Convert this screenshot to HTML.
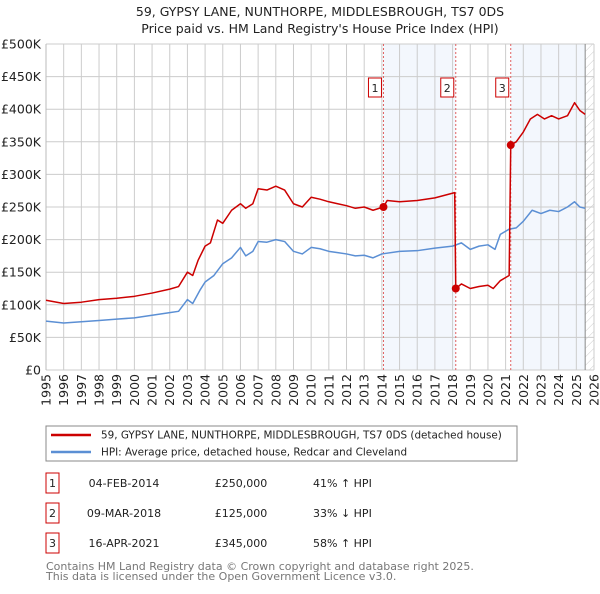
<!DOCTYPE html>
<html><head><meta charset="utf-8"><style>
body{margin:0;background:#fff;font-family:"DejaVu Sans","Liberation Sans",sans-serif;}
svg text{font-family:"DejaVu Sans","Liberation Sans",sans-serif;}
</style></head><body>
<svg id="c" width="600" height="590" xmlns="http://www.w3.org/2000/svg">
<defs><pattern id="hatch" width="6" height="6" patternUnits="userSpaceOnUse" patternTransform="rotate(45)"><line x1="0" y1="0" x2="0" y2="6" stroke="#ccc" stroke-width="1"/></pattern></defs>
<text x="320" y="16" font-size="12.5" text-anchor="middle" fill="#222">59, GYPSY LANE, NUNTHORPE, MIDDLESBROUGH, TS7 0DS</text>
<text x="320" y="33" font-size="12.5" text-anchor="middle" fill="#222">Price paid vs. HM Land Registry's House Price Index (HPI)</text>
<g id="plot"></g>
<rect x="46" y="426" width="471" height="35" fill="#fff" stroke="#888"/>
<line x1="51" y1="435" x2="91" y2="435" stroke="#cc0000" stroke-width="2.5"/>
<text x="101" y="438.5" font-size="10.4" fill="#222">59, GYPSY LANE, NUNTHORPE, MIDDLESBROUGH, TS7 0DS (detached house)</text>
<line x1="51" y1="452" x2="91" y2="452" stroke="#5b8fd4" stroke-width="2.5"/>
<text x="101" y="455.5" font-size="10.4" fill="#222">HPI: Average price, detached house, Redcar and Cleveland</text>
<g id="tbl"></g>
<text x="46" y="570" font-size="11" fill="#777">Contains HM Land Registry data © Crown copyright and database right 2025.</text>
<text x="46" y="580" font-size="11" fill="#777">This data is licensed under the Open Government Licence v3.0.</text>
</svg>
<script>
const yTicks=[0,50,100,150,200,250,300,350,400,450,500];
const yTickLabels=["£0","£50K","£100K","£150K","£200K","£250K","£300K","£350K","£400K","£450K","£500K"];
const years=[1995,1996,1997,1998,1999,2000,2001,2002,2003,2004,2005,2006,2007,2008,2009,2010,2011,2012,2013,2014,2015,2016,2017,2018,2019,2020,2021,2022,2023,2024,2025,2026];
const priceT=[1995,1996,1997,1998,1999,2000,2001,2002,2002.5,2003,2003.3,2003.6,2004,2004.3,2004.7,2005,2005.5,2006,2006.3,2006.7,2007,2007.5,2008,2008.5,2009,2009.5,2010,2010.5,2011,2011.5,2012,2012.5,2013,2013.5,2014.09,2014.3,2015,2016,2017,2018.12,2018.18,2018.5,2019,2019.5,2020,2020.3,2020.7,2021.2,2021.29,2021.6,2022,2022.4,2022.8,2023.2,2023.6,2024,2024.5,2024.9,2025.2,2025.5];
const priceV=[107,102,104,108,110,113,118,124,128,150,145,168,190,195,230,225,245,255,248,255,278,276,282,276,255,250,265,262,258,255,252,248,250,245,250,260,258,260,264,272,125,132,125,128,130,125,137,145,345,350,365,385,392,385,390,385,390,410,398,392];
const hpiT=[1995,1996,1997,1998,1999,2000,2001,2002,2002.5,2003,2003.3,2003.7,2004,2004.5,2005,2005.5,2006,2006.3,2006.7,2007,2007.5,2008,2008.5,2009,2009.5,2010,2010.5,2011,2011.5,2012,2012.5,2013,2013.5,2014,2015,2016,2017,2018,2018.5,2019,2019.5,2020,2020.4,2020.7,2021.2,2021.6,2022,2022.5,2023,2023.5,2024,2024.5,2024.9,2025.2,2025.5];
const hpiV=[75,72,74,76,78,80,84,88,90,108,102,122,135,145,163,172,188,175,182,197,196,200,197,182,178,188,186,182,180,178,175,176,172,178,182,183,187,190,195,185,190,192,185,208,216,218,228,245,240,245,243,250,258,250,248];
const saleT=[2014.09,2018.18,2021.29];
const saleV=[250,125,345];
const saleLabels=["1","2","3"];
const saleDates=["04-FEB-2014","09-MAR-2018","16-APR-2021"];
const salePrices=["£250,000","£125,000","£345,000"];
const saleHpi=["41% ↑ HPI","33% ↓ HPI","58% ↑ HPI"];

const X0=46,X1=594,Y0=370,Y1=44;
const x=t=>X0+(t-1995)/31*(X1-X0);
const y=v=>Y0-v/500*(Y0-Y1);
const NS="http://www.w3.org/2000/svg";
const g=document.getElementById('plot');
function mk(tag,attrs,parent){const e=document.createElementNS(NS,tag);for(const k in attrs)e.setAttribute(k,attrs[k]);(parent||g).appendChild(e);return e;}
let r=mk('rect',{x:x(saleT[0]),y:Y1,width:x(saleT[1])-x(saleT[0]),height:Y0-Y1,fill:'#eef3fc',opacity:0.7});


r=mk('rect',{x:x(saleT[2]),y:Y1,width:x(2025.5)-x(saleT[2]),height:Y0-Y1,fill:'#eef3fc',opacity:0.7});


r=mk('rect',{x:x(2025.5),y:Y1,width:X1-x(2025.5),height:Y0-Y1,fill:'url(#hatch)'});


yTicks.forEach((v,i)=>{
 const l=mk('line',{x1:X0,x2:X1,y1:y(v),y2:y(v),stroke:'#ccc'});
 
 
 const t=mk('text',{x:X0-5,y:y(v)+4.5,'font-size':12.5,'text-anchor':'end',fill:'#222'});
 t.textContent=yTickLabels[i];
 
 
});
years.forEach(yr=>{
 const l=mk('line',{x1:x(yr),x2:x(yr),y1:Y1,y2:Y0,stroke:'#ccc'});
 
 
 const t=mk('text',{x:0,y:0,'font-size':12.5,'text-anchor':'end',fill:'#222',transform:`translate(${x(yr)+4.5},${Y0+4}) rotate(-90)`});
 t.textContent=yr;
 
 
});
let ax=mk('line',{x1:X0,x2:X0,y1:Y1,y2:Y0,stroke:'#bbb'});


ax=mk('line',{x1:x(2025.5),x2:x(2025.5),y1:Y1,y2:Y0,stroke:'#888'});


saleT.forEach((t,i)=>{
 const l=mk('line',{x1:x(t),x2:x(t),y1:Y1,y2:Y0,stroke:'#e06060','stroke-dasharray':'2,2'});
 
 
 const bx=mk('rect',{x:x(t)-15,y:78,width:13,height:19,fill:'#fff',stroke:'#cc0000'});
 
 
 const tx=mk('text',{x:x(t)-8.5,y:92,'font-size':11,'text-anchor':'middle',fill:'#222'});
 tx.textContent=saleLabels[i];
 
 
});
function line(T,V,col,name){
 const p=mk('polyline',{points:T.map((t,i)=>x(t)+','+y(V[i])).join(' '),fill:'none',stroke:col,'stroke-width':1.5,'stroke-linejoin':'round'});
 
 
}
line(hpiT,hpiV,'#5b8fd4','hpi-line');
line(priceT,priceV,'#cc0000','price-line');
saleT.forEach((t,i)=>{
 const c=mk('circle',{cx:x(t),cy:y(saleV[i]),r:4,fill:'#cc0000'});
 
 
});
const tb=document.getElementById('tbl');
saleLabels.forEach((s,i)=>{
 const yy=483+i*30;
 const b=mk('rect',{x:46,y:yy-10,width:13,height:20,fill:'#fff',stroke:'#cc0000'},tb);
 
 
 const cols=[[52.5,s,'middle'],[124,saleDates[i],'middle'],[241,salePrices[i],'middle'],[313,saleHpi[i],'start']];
 cols.forEach(([cx,txt,a],j)=>{
  const t=mk('text',{x:cx,y:yy+4,'font-size':11,'text-anchor':a,fill:'#222'},tb);
  t.textContent=txt;
  
  
 });
});
</script>
</body></html>
